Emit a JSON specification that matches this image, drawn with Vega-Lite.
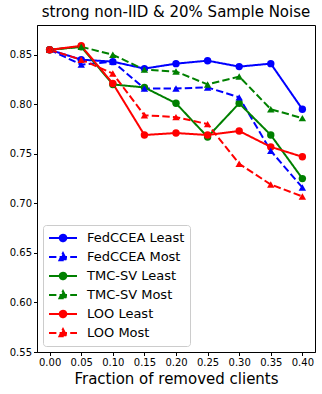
{
  "$schema": "https://vega.github.io/schema/vega-lite/v6.json",
  "width": 278,
  "height": 327,
  "autosize": {"type": "none"},
  "padding": {"left": 37, "top": 25, "right": 7, "bottom": 42},
  "background": "white",
  "title": {"text": "strong non-IID & 20% Sample Noise", "fontSize": 15, "font": "DejaVu Sans", "fontWeight": "normal", "color": "black", "offset": 5, "anchor": "middle"},
  "config": {
    "view": {"stroke": "black", "strokeWidth": 1},
    "axis": {"grid": false, "domainColor": "black", "tickColor": "black", "labelColor": "black", "labelFont": "DejaVu Sans", "labelFontSize": 10, "tickSize": 3.5, "labelPadding": 2, "titleFont": "DejaVu Sans", "titleColor": "black", "titleFontWeight": "normal"},
    "legend": {"labelFont": "DejaVu Sans", "labelFontSize": 13, "labelColor": "black"}
  },
  "data": {"values": [
    {"x": 0.00, "series": "FedCCEA Least", "value": 0.855},
    {"x": 0.05, "series": "FedCCEA Least", "value": 0.845},
    {"x": 0.10, "series": "FedCCEA Least", "value": 0.843},
    {"x": 0.15, "series": "FedCCEA Least", "value": 0.836},
    {"x": 0.20, "series": "FedCCEA Least", "value": 0.841},
    {"x": 0.25, "series": "FedCCEA Least", "value": 0.844},
    {"x": 0.30, "series": "FedCCEA Least", "value": 0.838},
    {"x": 0.35, "series": "FedCCEA Least", "value": 0.841},
    {"x": 0.40, "series": "FedCCEA Least", "value": 0.795},
    {"x": 0.00, "series": "FedCCEA Most", "value": 0.855},
    {"x": 0.05, "series": "FedCCEA Most", "value": 0.840},
    {"x": 0.10, "series": "FedCCEA Most", "value": 0.843},
    {"x": 0.15, "series": "FedCCEA Most", "value": 0.816},
    {"x": 0.20, "series": "FedCCEA Most", "value": 0.816},
    {"x": 0.25, "series": "FedCCEA Most", "value": 0.817},
    {"x": 0.30, "series": "FedCCEA Most", "value": 0.807},
    {"x": 0.35, "series": "FedCCEA Most", "value": 0.753},
    {"x": 0.40, "series": "FedCCEA Most", "value": 0.716},
    {"x": 0.00, "series": "TMC-SV Least", "value": 0.855},
    {"x": 0.05, "series": "TMC-SV Least", "value": 0.858},
    {"x": 0.10, "series": "TMC-SV Least", "value": 0.820},
    {"x": 0.15, "series": "TMC-SV Least", "value": 0.817},
    {"x": 0.20, "series": "TMC-SV Least", "value": 0.801},
    {"x": 0.25, "series": "TMC-SV Least", "value": 0.767},
    {"x": 0.30, "series": "TMC-SV Least", "value": 0.801},
    {"x": 0.35, "series": "TMC-SV Least", "value": 0.769},
    {"x": 0.40, "series": "TMC-SV Least", "value": 0.725},
    {"x": 0.00, "series": "TMC-SV Most", "value": 0.855},
    {"x": 0.05, "series": "TMC-SV Most", "value": 0.858},
    {"x": 0.10, "series": "TMC-SV Most", "value": 0.850},
    {"x": 0.15, "series": "TMC-SV Most", "value": 0.835},
    {"x": 0.20, "series": "TMC-SV Most", "value": 0.833},
    {"x": 0.25, "series": "TMC-SV Most", "value": 0.820},
    {"x": 0.30, "series": "TMC-SV Most", "value": 0.828},
    {"x": 0.35, "series": "TMC-SV Most", "value": 0.795},
    {"x": 0.40, "series": "TMC-SV Most", "value": 0.786},
    {"x": 0.00, "series": "LOO Least", "value": 0.855},
    {"x": 0.05, "series": "LOO Least", "value": 0.859},
    {"x": 0.10, "series": "LOO Least", "value": 0.821},
    {"x": 0.15, "series": "LOO Least", "value": 0.769},
    {"x": 0.20, "series": "LOO Least", "value": 0.771},
    {"x": 0.25, "series": "LOO Least", "value": 0.769},
    {"x": 0.30, "series": "LOO Least", "value": 0.773},
    {"x": 0.35, "series": "LOO Least", "value": 0.757},
    {"x": 0.40, "series": "LOO Least", "value": 0.747},
    {"x": 0.00, "series": "LOO Most", "value": 0.855},
    {"x": 0.05, "series": "LOO Most", "value": 0.845},
    {"x": 0.10, "series": "LOO Most", "value": 0.831},
    {"x": 0.15, "series": "LOO Most", "value": 0.789},
    {"x": 0.20, "series": "LOO Most", "value": 0.787},
    {"x": 0.25, "series": "LOO Most", "value": 0.780},
    {"x": 0.30, "series": "LOO Most", "value": 0.740},
    {"x": 0.35, "series": "LOO Most", "value": 0.719},
    {"x": 0.40, "series": "LOO Most", "value": 0.707}
  ]},
  "encoding": {
    "x": {"field": "x", "type": "quantitative", "scale": {"domain": [-0.02, 0.42], "nice": false, "zero": false},
          "axis": {"values": [0, 0.05, 0.1, 0.15, 0.2, 0.25, 0.3, 0.35, 0.4], "format": ".2f", "title": "Fraction of removed clients", "titleFontSize": 15, "titlePadding": 4}},
    "y": {"field": "value", "type": "quantitative", "scale": {"domain": [0.55, 0.88], "nice": false, "zero": false},
          "axis": {"values": [0.55, 0.6, 0.65, 0.7, 0.75, 0.8, 0.85], "format": ".2f", "title": null}}
  },
  "layer": [
    {
      "mark": {"type": "line", "strokeWidth": 2},
      "encoding": {
        "color": {"field": "series", "type": "nominal",
          "scale": {"domain": ["FedCCEA Least", "FedCCEA Most", "TMC-SV Least", "TMC-SV Most", "LOO Least", "LOO Most"],
                    "range": ["#0000ff", "#0000ff", "#008000", "#008000", "#ff0000", "#ff0000"]},
          "legend": {"title": null, "orient": "bottom-left", "offset": 6, "padding": 5, "rowPadding": 3,
                     "strokeColor": "#cccccc", "fillColor": "rgba(255,255,255,0.8)", "cornerRadius": 3,
                     "symbolSize": 196, "symbolStrokeWidth": 2, "labelOffset": 23, "symbolOpacity": 1,
                     "encode": {"symbols": {"update": {
                        "shape": {"signal": "indexof(datum.value, 'Most') >= 0 ? 'M-1,0H3M1,-0.55L1.5,0.45L0.5,0.45Z' : 'M-1,0H3M0.53,0A0.47,0.47 0 1,0 1.47,0A0.47,0.47 0 1,0 0.53,0Z'"},
                        "fill": {"signal": "scale('color', datum.value)"},
                        "fillOpacity": {"value": 1}
                     }}}}},
        "strokeDash": {"field": "series", "type": "nominal",
          "scale": {"domain": ["FedCCEA Least", "FedCCEA Most", "TMC-SV Least", "TMC-SV Most", "LOO Least", "LOO Most"],
                    "range": [[1, 0], [7.4, 3.2], [1, 0], [7.4, 3.2], [1, 0], [7.4, 3.2]]}}
      }
    },
    {
      "transform": [{"filter": "indexof(datum.series, 'Least') >= 0"}],
      "mark": {"type": "point", "filled": true, "opacity": 1, "size": 55, "shape": "circle", "strokeWidth": 0},
      "encoding": {
        "fill": {"field": "series", "type": "nominal",
          "scale": {"domain": ["FedCCEA Least", "FedCCEA Most", "TMC-SV Least", "TMC-SV Most", "LOO Least", "LOO Most"],
                    "range": ["#0000ff", "#0000ff", "#008000", "#008000", "#ff0000", "#ff0000"]},
          "legend": null}
      }
    },
    {
      "transform": [{"filter": "indexof(datum.series, 'Most') >= 0"}],
      "mark": {"type": "point", "filled": true, "opacity": 1, "size": 55, "shape": "triangle-up", "strokeWidth": 0},
      "encoding": {
        "fill": {"field": "series", "type": "nominal", "legend": null}
      }
    }
  ]
}
